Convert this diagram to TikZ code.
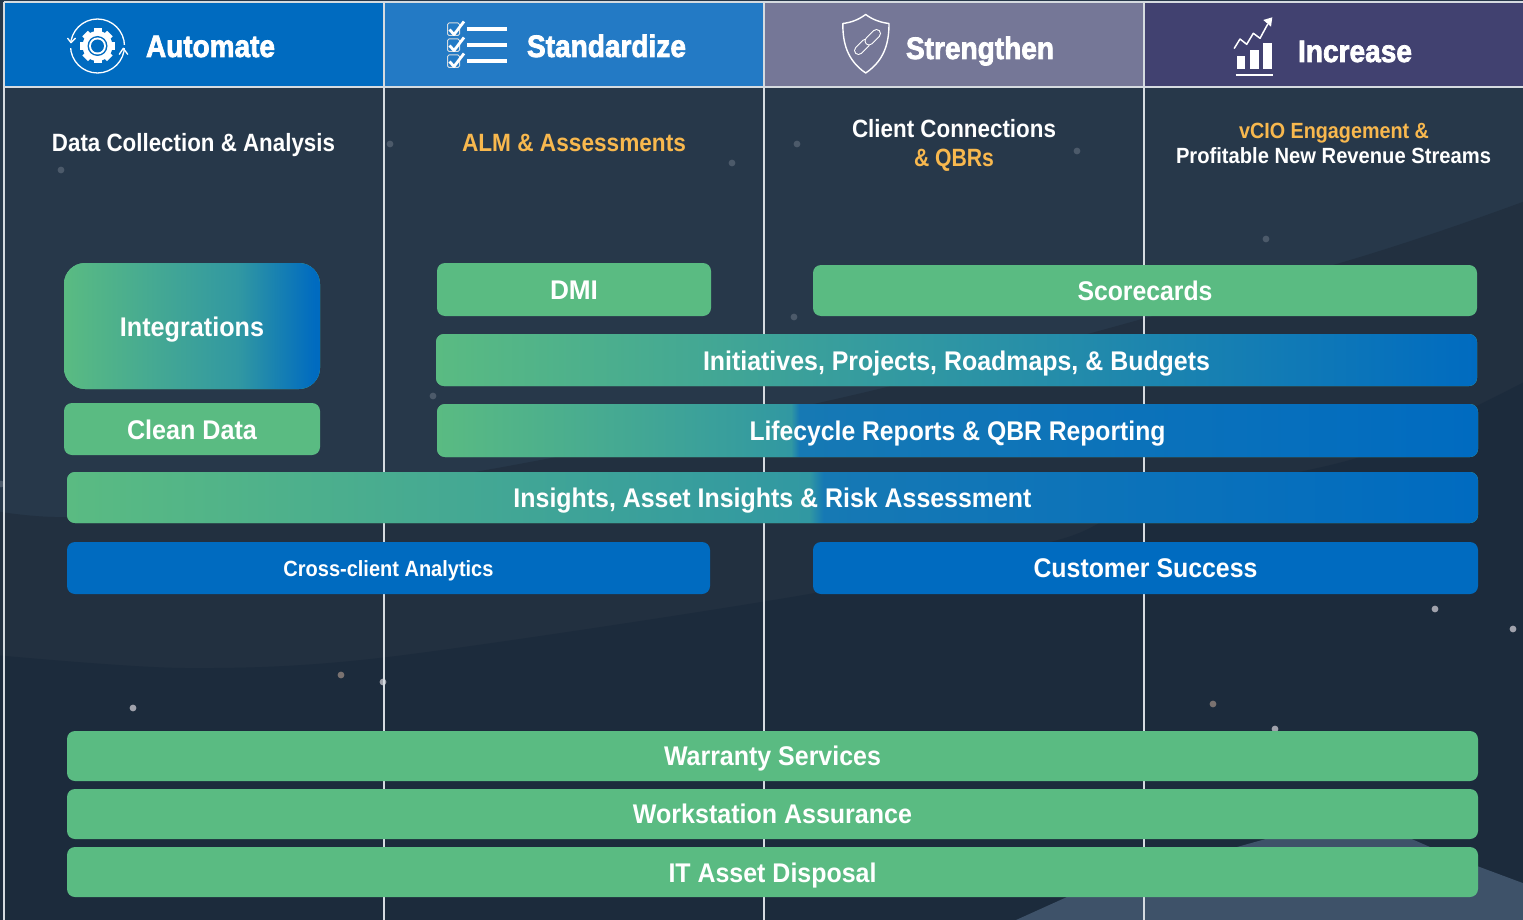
\documentclass[tikz,border=0pt]{standalone}
\usepackage{fontspec}
\usepackage{graphicx}
\setmainfont{Liberation Sans}
\newfontfamily\hdfont[FakeBold=2.5,UprightFont=*,BoldFont=* Bold]{Liberation Sans}
\definecolor{bgA}{HTML}{27384A}
\definecolor{bgB}{HTML}{223040}
\definecolor{bgC}{HTML}{1C2B3C}
\definecolor{peak}{HTML}{3E5269}
\definecolor{frameC}{HTML}{D5DBE0}
\definecolor{hdA}{HTML}{006BC0}
\definecolor{hdB}{HTML}{237AC5}
\definecolor{hdC}{HTML}{757797}
\definecolor{hdD}{HTML}{414170}
\definecolor{barG}{HTML}{5ABB82}
\definecolor{barB}{HTML}{006BC0}
\definecolor{barM}{HTML}{3198A2}
\definecolor{barN}{HTML}{1679B4}
\definecolor{amber}{HTML}{F8B84E}
\definecolor{dotA}{HTML}{4C5A6A}
\definecolor{dotB}{HTML}{A0A2AC}
\definecolor{dotC}{HTML}{7A7270}
\pgfdeclarehorizontalshading{gradInt}{100bp}{color(0bp)=(barG); color(25bp)=(barG); color(59bp)=(barM); color(74bp)=(barB); color(100bp)=(barB)}
\pgfdeclarehorizontalshading{gradIni}{100bp}{color(0bp)=(barG); color(25bp)=(barG); color(48bp)=(barM); color(75bp)=(barB); color(100bp)=(barB)}
\pgfdeclarehorizontalshading{gradLif}{100bp}{color(0bp)=(barG); color(25bp)=(barG); color(42bp)=(barM); color(42.4bp)=(barN); color(75bp)=(barB); color(100bp)=(barB)}
\pgfdeclarehorizontalshading{gradIns}{100bp}{color(0bp)=(barG); color(25bp)=(barG); color(51.3bp)=(barM); color(51.8bp)=(barN); color(75bp)=(barB); color(100bp)=(barB)}
\newcommand{\fitw}[3]{\resizebox{#1pt}{\height}{\fontsize{#2}{#2}\selectfont #3}}
\tikzset{
  bar/.style={rounded corners=8pt,inner sep=0pt,text=white,font=\bfseries,text height=19pt,text depth=0pt,fill=barG},
  barlow/.style={bar,text height=21pt},
  barblue/.style={bar,fill=barB},
  hdband/.style={inner sep=0pt,minimum width=379pt,minimum height=83.5pt},
  hdlabel/.style={inner sep=0pt,text=white,font=\hdfont\bfseries,text height=22pt,text depth=0pt},
  sublabel/.style={inner sep=0pt,text=white,font=\bfseries,text height=17pt,text depth=0pt},
  subsmall/.style={sublabel,text height=15.5pt},
  frameline/.style={draw=frameC,line width=1.5pt},
  ico/.style={draw=white,line cap=round,line join=round},
  dota/.style={fill=dotA},
  dotb/.style={fill=dotB},
  dotc/.style={fill=dotC}
}
\begin{document}
\begin{tikzpicture}[x=1pt,y=-1pt]
\useasboundingbox (0,0) rectangle (1523,920);
% background
\fill[bgA] (0,0) rectangle (1523,920);
\fill[bgB] plot[smooth] coordinates {(-5,511) (70,517) (250,503) (503,467) (887,387) (1340,263) (1528,200)} -- (1528,925) -- (-5,925) -- cycle;
\fill[bgC] plot[smooth] coordinates {(-5,655) (185,668) (388,657) (815,593) (1058,540) (1144,503) (1360,457) (1528,380)} -- (1528,925) -- (-5,925) -- cycle;
\fill[peak] (1005,925) -- (1067,897) -- (1237,847) -- (1273,837) -- (1340,825) -- (1407,837) -- (1430,847) -- (1477,866) -- (1528,885) -- (1528,925) -- cycle;
% dots
\foreach \x/\y in {61/170,390/144,732/163,797/144,1077/151,1266/239,794/317,433/396,1/484}{\fill[dota] (\x,\y) circle[radius=3.4];}
\foreach \x/\y in {383/682,133/708,1275/729,1435/609,1513/629}{\fill[dotb] (\x,\y) circle[radius=3.4];}
\foreach \x/\y in {341/675,1213/704}{\fill[dotc] (\x,\y) circle[radius=3.4];}
% header bands
\node[hdband,fill=hdA] (bandA) at (194.5,45.25) {};
\node[hdband,fill=hdB] (bandB) at (574.5,45.25) {};
\node[hdband,fill=hdC] (bandC) at (954.5,45.25) {};
\node[hdband,fill=hdD] (bandD) at (1334,45.25) {};
% frame
\draw[frameline] (4,2) -- (1523,2);
\draw[frameline] (4,87.2) -- (1523,87.2);
\draw[frameline] (4,2) -- (4,920);
\draw[frameline] (384,2) -- (384,920);
\draw[frameline] (764,2) -- (764,920);
\draw[frameline] (1144,2) -- (1144,920);
% header labels
\node[hdlabel] (tA) at (210.5,46) {\fitw{129}{31}{Automate}};
\node[hdlabel] (tB) at (606.5,46) {\fitw{159}{31}{Standardize}};
\node[hdlabel] (tC) at (980,48) {\fitw{148}{31}{Strengthen}};
\node[hdlabel] (tD) at (1355,51) {\fitw{114}{31}{Increase}};
% gear icon
\draw[ico,line width=1.3pt] (97.5,46) circle[radius=27];
\fill[hdA] (66,43.5) rectangle (76,48);
\fill[hdA] (119,45.5) rectangle (129,48.5);
\draw[ico,line width=1.3pt] (67.7,38.3) -- (71,42.7) -- (75.3,38.3);
\draw[ico,line width=1.3pt] (119.3,54.3) -- (123.3,48.3) -- (127.7,54.3);
\fill[white] (97.5,46) circle[radius=15];
\foreach \a in {0,45,...,315}{\draw[white,line width=8pt] (97.5,46) ++(\a:12) -- ++(\a:5.5);}
\fill[hdA] (97.5,46) circle[radius=10];
\fill[white] (97.5,46) circle[radius=8.5];
\fill[hdA] (97.5,46) circle[radius=6.5];
% checklist icon
\foreach \d in {0,16,32}{
  \draw[draw=frameC,line width=1pt,rounded corners=1.5pt] (447.5,23+\d) rectangle (459.5,35.5+\d);
  \draw[ico,line width=2.8pt,line cap=butt] (449.5,29.5+\d) -- (454,34.5+\d) -- (464,21.5+\d);
  \draw[white,line width=3.4pt] (467,29+\d) -- (507,29+\d);
}
% shield icon
\draw[ico,line width=1.4pt] (865.7,14.5) .. controls (858,20) and (851,22.5) .. (842.8,23.5) .. controls (842.8,42) and (846.5,60) .. (865.7,73) .. controls (885,60) and (889,42) .. (889,23.5) .. controls (881,22.5) and (873,20) .. (865.7,14.5) -- cycle;
\draw[white,line width=9pt,line cap=round] (858.5,50.5) -- (866,43);
\draw[hdC,line width=6.8pt,line cap=round] (858.5,50.5) -- (866,43);
\draw[white,line width=9pt,line cap=round] (876.5,33.5) -- (869,41);
\draw[hdC,line width=6.8pt,line cap=round] (876.5,33.5) -- (869,41);
% chart icon
\fill[white] (1236.7,56) rectangle (1245,69);
\fill[white] (1250,50) rectangle (1258.7,69);
\fill[white] (1263.3,43.3) rectangle (1271.7,69);
\draw[white,line width=2pt] (1235.7,74.7) -- (1272.7,74.7);
\draw[ico,line width=1.5pt] (1234.3,48.3) -- (1240,39) -- (1246.7,44.3) -- (1253.3,33.3) -- (1260,38.3) -- (1267.5,24.5);
\fill[white] (1263.3,20) -- (1272.3,17.3) -- (1271,26.7) -- cycle;
% column subtitles
\node[sublabel] (s1) at (193.5,143) {\fitw{283}{25}{Data Collection \& Analysis}};
\node[sublabel,text=amber] (s2) at (574,143) {\fitw{224}{25}{ALM \& Assessments}};
\node[sublabel] (s3a) at (954,129) {\fitw{204}{25}{Client Connections}};
\node[sublabel,text=amber] (s3b) at (954,158) {\fitw{80}{25}{\& QBRs}};
\node[subsmall,text=amber] (s4a) at (1334,131) {\fitw{190}{22}{vCIO Engagement \&}};
\node[subsmall] (s4b) at (1333.5,156) {\fitw{315}{22}{Profitable New Revenue Streams}};
% bars
\node[barlow,shade,shading=gradInt,rounded corners=21pt,minimum width=256pt,minimum height=126pt] (integrations) at (192,326) {\fitw{144}{27}{Integrations}};
\node[barlow,minimum width=256pt,minimum height=52pt] (clean) at (192,429) {\fitw{130}{27}{Clean Data}};
\node[bar,minimum width=274pt,minimum height=53pt] (dmi) at (574,289.5) {\fitw{48}{27}{DMI}};
\node[bar,minimum width=664pt,minimum height=51pt] (score) at (1145,290.5) {\fitw{135}{27}{Scorecards}};
\node[barlow,shade,shading=gradIni,minimum width=1041pt,minimum height=52pt] (init) at (956.5,360) {\fitw{507}{27}{Initiatives, Projects, Roadmaps, \& Budgets}};
\node[bar,shade,shading=gradLif,minimum width=1041pt,minimum height=53pt] (life) at (957.5,430.5) {\fitw{416}{27}{Lifecycle Reports \& QBR Reporting}};
\node[bar,shade,shading=gradIns,minimum width=1411pt,minimum height=51pt] (insights) at (772.5,497.5) {\fitw{518}{27}{Insights, Asset Insights \& Risk Assessment}};
\node[barblue,text height=16pt,minimum width=643pt,minimum height=52pt] (cross) at (388.5,568) {\fitw{210}{22}{Cross-client Analytics}};
\node[barblue,minimum width=665pt,minimum height=52pt] (cust) at (1145.5,568) {\fitw{224}{27}{Customer Success}};
\node[bar,minimum width=1411pt,minimum height=50pt] (warranty) at (772.5,756) {\fitw{217}{27}{Warranty Services}};
\node[bar,minimum width=1411pt,minimum height=50pt] (work) at (772.5,814) {\fitw{279}{27}{Workstation Assurance}};
\node[barlow,minimum width=1411pt,minimum height=50pt] (disposal) at (772.5,872) {\fitw{208}{27}{IT Asset Disposal}};
\end{tikzpicture}
\end{document}
